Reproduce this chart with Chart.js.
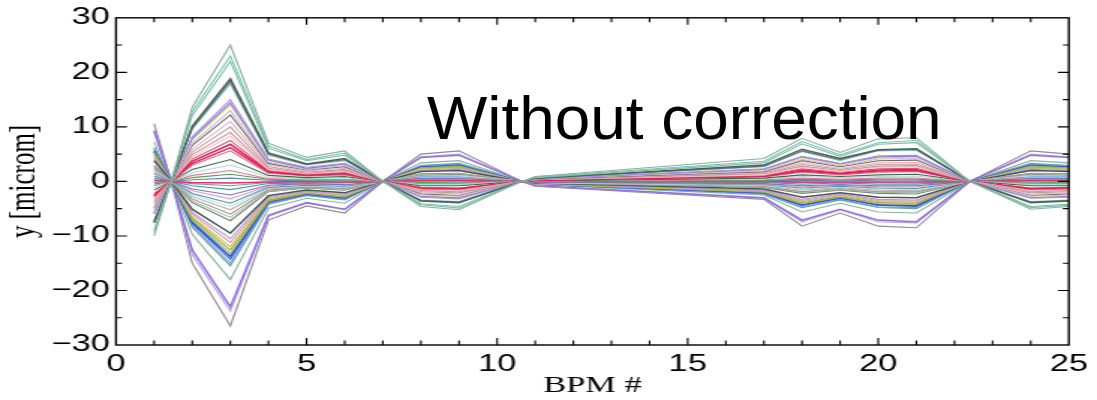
<!DOCTYPE html>
<html>
<head>
<meta charset="utf-8">
<script src="https://cdn.jsdelivr.net/npm/chart.js@4"></script>
<style>
  html, body { margin: 0; padding: 0; background: #fff; }
  body { width: 1097px; height: 400px; position: relative; overflow: hidden; }
  /* the figure is drawn narrow and widened, like the original plot */
  #wrap { position: absolute; left: 0; top: 0; width: 732px; height: 400px;
          transform: scaleX(1.4986); transform-origin: 0 0; }
  #label { position: absolute; left: 427px; top: 87px; margin: 0;
           font: 62px/62px "Liberation Sans", Arial, sans-serif; color: #000;
           white-space: nowrap; transform: scaleX(1.03); transform-origin: 0 0; }
</style>
</head>
<body>
<div id="wrap"><canvas id="orbit"></canvas></div>
<div id="label">Without correction</div>
<script>
// ===== BPM positions and tick labels =====
const bpm = [1, 1.45, 2, 3, 4, 5, 6, 7, 8, 9, 10.65, 11, 17, 18, 19, 20, 21, 22.4, 24, 25];
const xTickVals = [0, 5, 10, 15, 20, 25];
const yTickVals = [-30, -20, -10, 0, 10, 20, 30];

// ===== vertical orbit, one array per trajectory [micrometre] =====
const traj01 = [-10.0, 0, 13.6, 25.0, 7.0, 4.4, 5.6, 0, -4.6, -5.2, 0, 0.9, 4.2, 7.9, 5.3, 7.8, 8.0, 0, -5.1, -4.6];
const traj02 = [-9.4, 0, 12.8, 23.0, 6.5, 4.0, 5.2, 0, -4.3, -4.9, 0, 0.8, 3.7, 7.3, 4.9, 7.1, 7.5, 0, -4.8, -4.4];
const traj03 = [-8.9, 0, 12.1, 22.0, 6.1, 3.8, 4.8, 0, -4.1, -4.6, 0, 0.7, 3.4, 6.9, 4.6, 6.8, 7.1, 0, -4.6, -4.2];
const traj04 = [-7.6, 0, 10.1, 18.8, 5.2, 3.2, 4.2, 0, -3.6, -3.9, 0, 0.6, 3.0, 5.9, 4.2, 5.8, 6.0, 0, -3.9, -3.6];
const traj05 = [-7.3, 0, 9.8, 18.3, 5.0, 3.1, 4.0, 0, -3.5, -3.8, 0, 0.6, 2.8, 5.6, 4.0, 5.7, 5.9, 0, -3.8, -3.5];
const traj06 = [-7.1, 0, 9.6, 17.9, 4.8, 3.0, 3.8, 0, -3.4, -3.7, 0, 0.6, 2.7, 5.5, 3.8, 5.6, 5.7, 0, -3.7, -3.4];
const traj07 = [-6.0, 0, 8.2, 15.0, 4.1, 2.6, 3.3, 0, -2.9, -3.2, 0, 0.5, 2.3, 4.6, 3.3, 4.7, 4.8, 0, -3.1, -2.9];
const traj08 = [-5.8, 0, 7.9, 14.4, 3.9, 2.4, 3.2, 0, -2.8, -3.0, 0, 0.5, 2.2, 4.5, 3.2, 4.5, 4.6, 0, -3.0, -2.8];
const traj09 = [-5.6, 0, 7.6, 14.0, 3.8, 2.4, 3.1, 0, -2.7, -2.9, 0, 0.5, 2.1, 4.3, 3.0, 4.3, 4.5, 0, -2.9, -2.7];
const traj10 = [-5.2, 0, 7.0, 13.0, 3.5, 2.2, 2.9, 0, -2.5, -2.7, 0, 0.5, 1.9, 4.0, 2.9, 4.1, 4.2, 0, -2.7, -2.5];
const traj11 = [-4.9, 0, 6.6, 12.2, 3.3, 2.1, 2.7, 0, -2.3, -2.6, 0, 0.4, 1.8, 3.8, 2.7, 3.8, 3.9, 0, -2.6, -2.3];
const traj12 = [-4.4, 0, 5.9, 11.0, 3.0, 1.9, 2.4, 0, -2.1, -2.3, 0, 0.4, 1.7, 3.4, 2.4, 3.4, 3.5, 0, -2.3, -2.1];
const traj13 = [-4.0, 0, 5.4, 10.0, 2.7, 1.7, 2.2, 0, -1.9, -2.1, 0, 0.4, 1.5, 3.1, 2.2, 3.1, 3.2, 0, -2.1, -1.9];
const traj14 = [-3.6, 0, 4.9, 9.0, 2.4, 1.5, 2.0, 0, -1.7, -1.9, 0, 0.3, 1.4, 2.8, 2.0, 2.8, 2.9, 0, -1.9, -1.7];
const traj15 = [-3.3, 0, 4.5, 8.3, 2.2, 1.4, 1.8, 0, -1.6, -1.7, 0, 0.3, 1.2, 2.6, 1.8, 2.6, 2.7, 0, -1.7, -1.6];
const traj16 = [-3.0, 0, 4.1, 7.5, 2.0, 1.3, 1.7, 0, -1.4, -1.6, 0, 0.3, 1.1, 2.3, 1.7, 2.3, 2.4, 0, -1.6, -1.4];
const traj17 = [-2.7, 0, 3.7, 6.8, 1.8, 1.2, 1.5, 0, -1.3, -1.4, 0, 0.2, 1.0, 2.1, 1.5, 2.1, 2.2, 0, -1.4, -1.3];
const traj18 = [-2.5, 0, 3.3, 6.2, 1.7, 1.1, 1.4, 0, -1.2, -1.3, 0, 0.2, 0.9, 1.9, 1.4, 1.9, 2.0, 0, -1.3, -1.2];
const traj19 = [-2.2, 0, 3.0, 5.6, 1.5, 1.0, 1.2, 0, -1.1, -1.2, 0, 0.2, 0.8, 1.7, 1.2, 1.7, 1.8, 0, -1.2, -1.1];
const traj20 = [-1.6, 0, 2.2, 4.0, 1.1, 0.7, 0.9, 0, -0.8, -0.8, 0, 0.1, 0.6, 1.2, 0.9, 1.2, 1.3, 0, -0.8, -0.8];
const traj21 = [-1.2, 0, 1.6, 3.0, 0.8, 0.5, 0.7, 0, -0.6, -0.6, 0, 0.1, 0.5, 0.9, 0.7, 0.9, 1.0, 0, -0.6, -0.6];
const traj22 = [-0.8, 0, 1.1, 2.0, 0.5, 0.3, 0.4, 0, -0.4, -0.4, 0, 0.1, 0.3, 0.6, 0.4, 0.6, 0.6, 0, -0.4, -0.4];
const traj23 = [-0.5, 0, 0.7, 1.3, 0.4, 0.2, 0.3, 0, -0.2, -0.3, 0, 0.0, 0.2, 0.4, 0.3, 0.4, 0.4, 0, -0.3, -0.2];
const traj24 = [-0.2, 0, 0.3, 0.6, 0.2, 0.1, 0.1, 0, -0.1, -0.1, 0, 0.0, 0.1, 0.2, 0.1, 0.2, 0.2, 0, -0.1, -0.1];
const traj25 = [0.1, 0, -0.2, -0.3, -0.1, 0.0, -0.1, 0, 0.1, 0.1, 0, 0.0, 0.0, -0.1, -0.1, -0.1, -0.1, 0, 0.1, 0.1];
const traj26 = [0.3, 0, -0.4, -0.8, -0.2, -0.1, -0.2, 0, 0.2, 0.2, 0, 0.0, -0.1, -0.2, -0.2, -0.2, -0.3, 0, 0.2, 0.2];
const traj27 = [0.6, 0, -0.8, -1.5, -0.4, -0.3, -0.3, 0, 0.3, 0.3, 0, -0.1, -0.2, -0.5, -0.3, -0.5, -0.5, 0, 0.3, 0.3];
const traj28 = [1.0, 0, -1.4, -2.5, -0.7, -0.4, -0.6, 0, 0.5, 0.5, 0, -0.1, -0.4, -0.8, -0.6, -0.8, -0.8, 0, 0.5, 0.5];
const traj29 = [1.3, 0, -1.7, -3.2, -0.9, -0.5, -0.7, 0, 0.6, 0.7, 0, -0.1, -0.5, -1.0, -0.7, -1.0, -1.0, 0, 0.7, 0.6];
const traj30 = [1.6, 0, -2.2, -4.0, -1.1, -0.7, -0.9, 0, 0.8, 0.8, 0, -0.1, -0.6, -1.2, -0.9, -1.2, -1.3, 0, 0.8, 0.8];
const traj31 = [1.8, 0, -2.5, -4.6, -1.2, -0.8, -1.0, 0, 0.9, 1.0, 0, -0.2, -0.7, -1.4, -1.0, -1.4, -1.5, 0, 1.0, 0.9];
const traj32 = [2.1, 0, -2.8, -5.2, -1.4, -0.9, -1.1, 0, 1.0, 1.1, 0, -0.2, -0.8, -1.6, -1.1, -1.6, -1.7, 0, 1.1, 1.0];
const traj33 = [2.4, 0, -3.2, -6.0, -1.6, -1.0, -1.3, 0, 1.1, 1.3, 0, -0.2, -0.9, -1.9, -1.3, -1.9, -1.9, 0, 1.3, 1.1];
const traj34 = [2.6, 0, -3.6, -6.6, -1.8, -1.1, -1.5, 0, 1.3, 1.4, 0, -0.2, -1.0, -2.0, -1.5, -2.0, -2.1, 0, 1.4, 1.3];
const traj35 = [2.9, 0, -3.9, -7.2, -1.9, -1.2, -1.6, 0, 1.4, 1.5, 0, -0.3, -1.1, -2.2, -1.6, -2.2, -2.3, 0, 1.5, 1.4];
const traj36 = [3.8, 0, -5.1, -9.5, -2.6, -1.6, -2.1, 0, 1.8, 2.0, 0, -0.3, -1.4, -2.9, -2.1, -2.9, -3.0, 0, 2.0, 1.8];
const traj37 = [4.2, 0, -5.7, -10.5, -2.8, -1.8, -2.3, 0, 2.0, 2.2, 0, -0.4, -1.6, -3.3, -2.3, -3.3, -3.4, 0, 2.2, 2.0];
const traj38 = [4.5, 0, -6.0, -11.2, -3.0, -1.9, -2.5, 0, 2.1, 2.4, 0, -0.4, -1.7, -3.5, -2.5, -3.5, -3.6, 0, 2.4, 2.1];
const traj39 = [4.8, 0, -6.5, -12.0, -3.2, -2.0, -2.6, 0, 2.3, 2.5, 0, -0.4, -1.8, -3.7, -2.6, -3.7, -3.8, 0, 2.5, 2.3];
const traj40 = [5.0, 0, -6.8, -12.6, -3.4, -2.1, -2.8, 0, 2.4, 2.6, 0, -0.4, -1.9, -3.9, -2.8, -3.9, -4.0, 0, 2.6, 2.4];
const traj41 = [5.3, 0, -7.1, -13.2, -3.6, -2.2, -2.9, 0, 2.5, 2.8, 0, -0.5, -2.0, -4.1, -2.9, -4.1, -4.2, 0, 2.8, 2.5];
const traj42 = [5.5, 0, -7.5, -13.8, -3.7, -2.3, -3.0, 0, 2.6, 2.9, 0, -0.5, -2.1, -4.3, -3.0, -4.3, -4.4, 0, 2.9, 2.6];
const traj43 = [5.7, 0, -7.7, -14.3, -3.9, -2.4, -3.1, 0, 2.7, 3.0, 0, -0.5, -2.1, -4.4, -3.1, -4.4, -4.6, 0, 3.0, 2.7];
const traj44 = [6.0, 0, -8.1, -15.0, -4.1, -2.6, -3.3, 0, 2.9, 3.2, 0, -0.5, -2.3, -4.7, -3.3, -4.7, -4.8, 0, 3.2, 2.9];
const traj45 = [6.2, 0, -8.4, -15.5, -4.2, -2.6, -3.4, 0, 2.9, 3.3, 0, -0.5, -2.3, -4.8, -3.4, -4.8, -5.0, 0, 3.3, 2.9];
const traj46 = [7.2, 0, -9.7, -18.0, -4.9, -3.1, -4.0, 0, 3.4, 3.8, 0, -0.6, -2.5, -5.6, -4.0, -5.6, -5.8, 0, 3.8, 3.4];
const traj47 = [9.2, 0, -12.6, -23.0, -6.2, -3.9, -5.1, 0, 4.4, 4.8, 0, -0.8, -3.0, -7.1, -5.1, -7.1, -7.4, 0, 4.8, 4.4];
const traj48 = [9.5, 0, -13.4, -23.8, -6.4, -4.0, -5.2, 0, 4.5, 5.0, 0, -0.8, -3.1, -7.4, -5.2, -7.4, -7.6, 0, 5.0, 4.5];
const traj49 = [10.6, 0, -15.0, -26.5, -7.1, -4.5, -5.8, 0, 5.0, 5.6, 0, -0.9, -3.3, -8.2, -5.8, -8.2, -8.5, 0, 5.6, 5.0];

const trajectories = [traj01, traj02, traj03, traj04, traj05, traj06, traj07, traj08, traj09, traj10,
  traj11, traj12, traj13, traj14, traj15, traj16, traj17, traj18, traj19, traj20,
  traj21, traj22, traj23, traj24, traj25, traj26, traj27, traj28, traj29, traj30,
  traj31, traj32, traj33, traj34, traj35, traj36, traj37, traj38, traj39, traj40,
  traj41, traj42, traj43, traj44, traj45, traj46, traj47, traj48, traj49];

// ===== line styles =====
const lineColors = ["#8fae9f", "#70c4b2", "#7cc0a0", "#4e615a", "#667270", "#80c8b8", "#a890ea", "#8e78de", "#e4e070", "#c4bcd8",
  "#766462", "#eab2c2", "#b4a4a4", "#dc9494", "#f0c6d2", "#e25474", "#dc1e5c", "#d6306a", "#ea6680", "#3e6a50",
  "#a2e2d2", "#f27492", "#4ea24e", "#6082c2", "#e0306a", "#8494a4", "#3ea2a2", "#7474cc", "#e2a4ba", "#4e92b4",
  "#b2eaea", "#caaaa2", "#949494", "#a2c4a2", "#7c7c7c", "#3e5a50", "#c292e2", "#d2a2b2", "#cac23e", "#a2a24e",
  "#92c24e", "#2e4ee2", "#5264d2", "#62a2e2", "#6c9c92", "#8cb29c", "#9272e2", "#b2a2e2", "#8e8a98"];
const heavyLines = [3, 16, 17, 24, 35, 41, 46];

const minus = v => (v < 0 ? "\u2212" + Math.abs(v) : String(v));

// box round the axes with inward ticks, matlab style
const frameTicks = {
  id: "frameTicks",
  afterDraw(chart) {
    const {ctx, chartArea: a, scales: {x, y}} = chart;
    ctx.save();
    ctx.strokeStyle = "#000";
    ctx.lineWidth = 1.4;
    ctx.strokeRect(a.left, a.top, a.right - a.left, a.bottom - a.top);
    ctx.lineWidth = 1.1;
    ctx.beginPath();
    for (let v = 1; v < 25; v++) {
      const px = x.getPixelForValue(v);
      const len = v % 5 === 0 ? 7 : 4.5;
      ctx.moveTo(px, a.bottom); ctx.lineTo(px, a.bottom - len);
      ctx.moveTo(px, a.top); ctx.lineTo(px, a.top + len);
    }
    for (let v = -25; v < 30; v += 5) {
      const py = y.getPixelForValue(v);
      const len = v % 10 === 0 ? 7.3 : 4;
      ctx.moveTo(a.left, py); ctx.lineTo(a.left + len, py);
      ctx.moveTo(a.right, py); ctx.lineTo(a.right - len, py);
    }
    ctx.stroke();
    ctx.restore();
  }
};

new Chart(document.getElementById("orbit"), {
  type: "line",
  data: {
    datasets: trajectories.map((vals, k) => ({
      data: bpm.map((b, i) => ({x: b, y: vals[i]})),
      borderColor: lineColors[k],
      borderWidth: heavyLines.includes(k) ? 1.5 : 1.1,
      pointRadius: 0,
      tension: 0,
      fill: false
    }))
  },
  options: {
    responsive: true,
    maintainAspectRatio: false,
    animation: false,
    events: [],
    layout: {padding: {top: 17, right: 13.3, left: 0, bottom: 0}},
    plugins: {legend: {display: false}, tooltip: {enabled: false}},
    scales: {
      x: {
        type: "linear", min: 0, max: 25,
        afterBuildTicks: s => { s.ticks = xTickVals.map(v => ({value: v})); },
        afterFit: s => { s.height = 55; },
        grid: {display: false, drawTicks: false},
        border: {display: false},
        ticks: {color: "#000", padding: 6, maxRotation: 0,
                font: {family: "'Liberation Sans', Arial", size: 23}},
        title: {display: true, text: "BPM #", color: "#000", padding: {top: 0, bottom: 0},
                font: {family: "'Liberation Serif', 'Times New Roman'", size: 23}}
      },
      y: {
        min: -30, max: 30,
        afterBuildTicks: s => { s.ticks = yTickVals.map(v => ({value: v})); },
        afterFit: s => { s.width = 77.4; },
        grid: {display: false, drawTicks: false},
        border: {display: false},
        ticks: {color: "#000", padding: 4, callback: minus,
                font: {family: "'Liberation Sans', Arial", size: 23}},
        title: {display: true, text: "y [microm]", color: "#000", padding: {top: 1, bottom: 0},
                font: {family: "'Liberation Serif', 'Times New Roman'", size: 25}}
      }
    }
  },
  plugins: [frameTicks]
});
</script>
</body>
</html>
